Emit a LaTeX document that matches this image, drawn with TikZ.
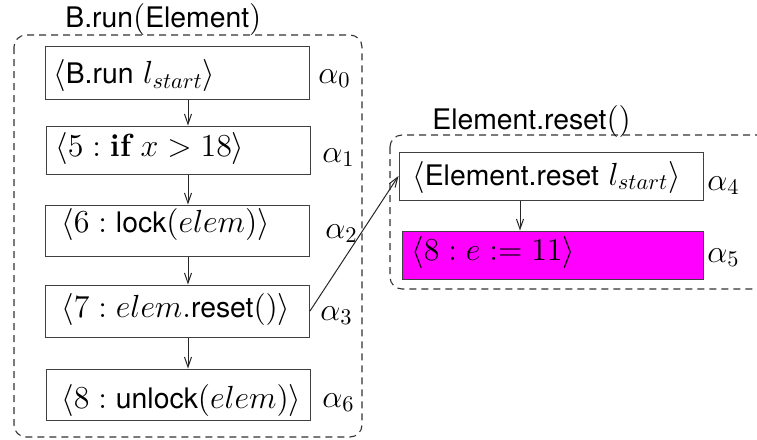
\RequirePackage{fix-cm}
\documentclass[tikz,border=0pt]{standalone}
\usepackage{fontspec}
\setsansfont{TeX Gyre Heros}[Scale=0.885]
\usetikzlibrary{arrows.meta}
\newcommand{\figfont}{\fontsize{16}{19}\selectfont}
\begin{document}
\begin{tikzpicture}[x=0.5pt,y=-0.5pt,
  boxl/.style={draw=black!75, line width=0.5pt, minimum width=132pt, inner sep=0pt},
  boxr/.style={draw=black!75, line width=0.5pt, minimum height=24pt, inner sep=0pt},
  txt/.style={font=\figfont, inner sep=0pt, anchor=base west},
  lbl/.style={font=\figfont, inner sep=0pt, anchor=base west},
  grp/.style={draw=black!80, line width=0.55pt, dash pattern=on 3.5pt off 2.5pt, rounded corners=6pt},
  arr/.style={draw=black!85, line width=0.5pt, -{Straight Barb[length=5pt,width=3.5pt]}}
]
\useasboundingbox (0,0) rectangle (757,440);
\clip (0,0) rectangle (757,440);

% groups
\draw[grp] (14,35) rectangle (362,437);
\draw[grp] (390,135) rectangle (820,289);
\node[lbl] (g1) at (65,27) {\textsf{B.run}$($\textsf{Element}$)$};
\node[lbl] (g2) at (432,129) {\textsf{Element.reset}$()$};

% left boxes
\node[boxl, minimum height=26.5pt] (b0) at (177,72.5) {};
\node[boxl, minimum height=24pt] (b1) at (178,150) {};
\node[boxl, minimum height=25.5pt] (b2) at (177.5,230.5) {};
\node[boxl, minimum height=26pt] (b3) at (177.5,311) {};
\node[boxl, minimum height=25.5pt] (b6) at (178,394.5) {};

\node[txt] (t0) at (53,83.3) {$\langle$\textsf{B.run} $l_{start}\rangle$};
\node[txt] (t1) at (55,156.5) {$\langle 5 : \textbf{if}\ x > 18\rangle$};
\node[txt] (t2) at (61,232.7) {$\langle 6 : \textsf{lock}(elem)\rangle$};
\node[txt] (t3) at (61,317) {$\langle 7 : elem.\textsf{reset}()\rangle$};
\node[txt] (t6) at (61,408) {$\langle 8 : \textsf{unlock}(elem)\rangle$};

% right boxes
\node[boxr, minimum width=152pt] (b4) at (551,176) {};
\node[boxr, minimum width=150.5pt, fill={rgb,255:red,255;green,0;blue,255}] (b5) at (552.5,255) {};
\node[txt] (t4) at (412,185) {$\langle$\textsf{Element.reset} $l_{start}\rangle$};
\node[txt] (t5) at (411,260) {$\langle 8 : e := 11\rangle$};

% alpha labels
\node[lbl] (a0) at (318,83) {$\alpha_0$};
\node[lbl] (a1) at (322,162) {$\alpha_1$};
\node[lbl] (a2) at (325,238) {$\alpha_2$};
\node[lbl] (a3) at (320,320) {$\alpha_3$};
\node[lbl] (a6) at (322,407) {$\alpha_6$};
\node[lbl] (a4) at (707,190) {$\alpha_4$};
\node[lbl] (a5) at (707,262) {$\alpha_5$};

% connectors
\coordinate (ax) at (188,0);
\coordinate (bx) at (520,0);
\draw[arr] (b0.south -| ax) -- (b1.north -| ax);
\draw[arr] (b1.south -| ax) -- (b2.north -| ax);
\draw[arr] (b2.south -| ax) -- (b3.north -| ax);
\draw[arr] (b3.south -| ax) -- (b6.north -| ax);
\draw[arr] (b4.south -| bx) -- (b5.north -| bx);
\draw[arr] (b3.east) -- (b4.west);
\end{tikzpicture}
\end{document}
